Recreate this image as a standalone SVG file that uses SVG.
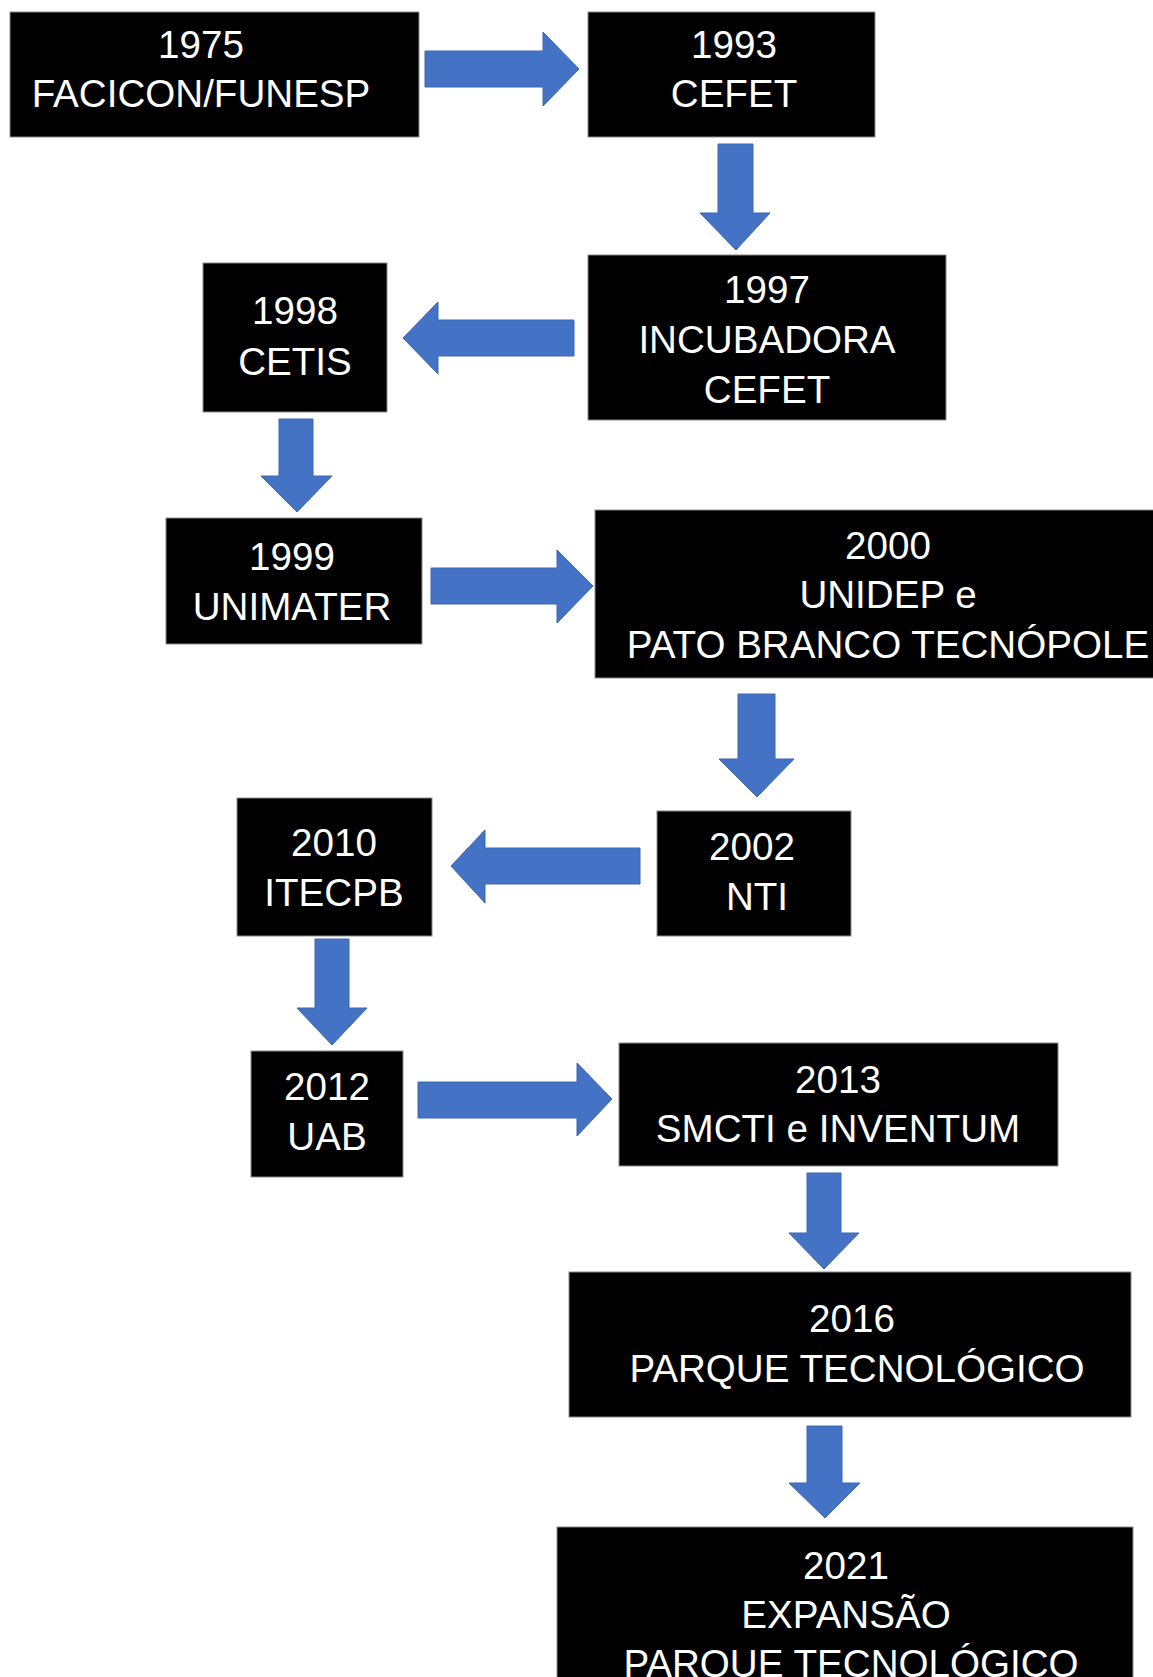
<svg xmlns="http://www.w3.org/2000/svg" width="1153" height="1677" viewBox="0 0 1153 1677">
<style>
.box{fill:#000;stroke:#8a8a8a;stroke-width:1}
.t{fill:#fff;font-family:"Liberation Sans",Arial,Helvetica,sans-serif;font-size:38.6px;text-anchor:middle}
.arr{fill:#4472C4;stroke:#3d66b3;stroke-width:1}
</style>
<rect width="1153" height="1677" fill="#fff"/>
<g id="connectors">
<polygon class="arr" points="425,51 543,51 543,32 579,69 543,106 543,87 425,87"/>
<polygon class="arr" points="718,144 753,144 753,213 770,213 736,250 700,213 718,213"/>
<polygon class="arr" points="574,320 438,320 438,302 403,338 438,374 438,356 574,356"/>
<polygon class="arr" points="279,419 313,419 313,476 332,476 297,512 261,476 279,476"/>
<polygon class="arr" points="431,568 557,568 557,550 593,586 557,623 557,604 431,604"/>
<polygon class="arr" points="738,694 775,694 775,759 794,759 757,797 719,759 738,759"/>
<polygon class="arr" points="640,848 485,848 485,830 451,866 485,903 485,884 640,884"/>
<polygon class="arr" points="315,939 349,939 349,1008 367,1008 332,1045 297,1008 315,1008"/>
<polygon class="arr" points="418,1082 577,1082 577,1063 612,1099 577,1136 577,1118 418,1118"/>
<polygon class="arr" points="807,1173 841,1173 841,1233 859,1233 824,1269 789,1233 807,1233"/>
<polygon class="arr" points="807,1426 842,1426 842,1483 860,1483 825,1518 789,1483 807,1483"/>
</g>
<g id="n1975">
<rect class="box" x="10" y="12" width="409" height="125"/>
<text class="t" x="201" y="58">1975</text>
<text class="t" x="201" y="107">FACICON/FUNESP</text>
</g>
<g id="n1993">
<rect class="box" x="588" y="12" width="287" height="125"/>
<text class="t" x="734" y="58">1993</text>
<text class="t" x="734" y="107">CEFET</text>
</g>
<g id="n1997">
<rect class="box" x="588" y="255" width="358" height="165"/>
<text class="t" x="767" y="303">1997</text>
<text class="t" x="767" y="353">INCUBADORA</text>
<text class="t" x="767" y="403">CEFET</text>
</g>
<g id="n1998">
<rect class="box" x="203" y="263" width="184" height="149"/>
<text class="t" x="295" y="324">1998</text>
<text class="t" x="295" y="375">CETIS</text>
</g>
<g id="n1999">
<rect class="box" x="166" y="518" width="256" height="126"/>
<text class="t" x="292" y="570">1999</text>
<text class="t" x="292" y="620">UNIMATER</text>
</g>
<g id="n2000">
<rect class="box" x="595" y="510" width="600" height="168"/>
<text class="t" x="888" y="559">2000</text>
<text class="t" x="888" y="608">UNIDEP e</text>
<text class="t" x="888" y="658">PATO BRANCO TECNÓPOLE</text>
</g>
<g id="n2002">
<rect class="box" x="657" y="811" width="194" height="125"/>
<text class="t" x="752" y="860">2002</text>
<text class="t" x="757" y="910">NTI</text>
</g>
<g id="n2010">
<rect class="box" x="237" y="798" width="195" height="138"/>
<text class="t" x="334" y="856">2010</text>
<text class="t" x="334" y="906">ITECPB</text>
</g>
<g id="n2012">
<rect class="box" x="251" y="1051" width="152" height="126"/>
<text class="t" x="327" y="1100">2012</text>
<text class="t" x="327" y="1150">UAB</text>
</g>
<g id="n2013">
<rect class="box" x="619" y="1043" width="439" height="123"/>
<text class="t" x="838" y="1093">2013</text>
<text class="t" x="838" y="1142">SMCTI e INVENTUM</text>
</g>
<g id="n2016">
<rect class="box" x="569" y="1272" width="562" height="145"/>
<text class="t" x="852" y="1332">2016</text>
<text class="t" x="857" y="1382">PARQUE TECNOLÓGICO</text>
</g>
<g id="n2021">
<rect class="box" x="557" y="1527" width="576" height="180"/>
<text class="t" x="846" y="1579">2021</text>
<text class="t" x="846" y="1628">EXPANSÃO</text>
<text class="t" x="851" y="1677">PARQUE TECNOLÓGICO</text>
</g>
</svg>
